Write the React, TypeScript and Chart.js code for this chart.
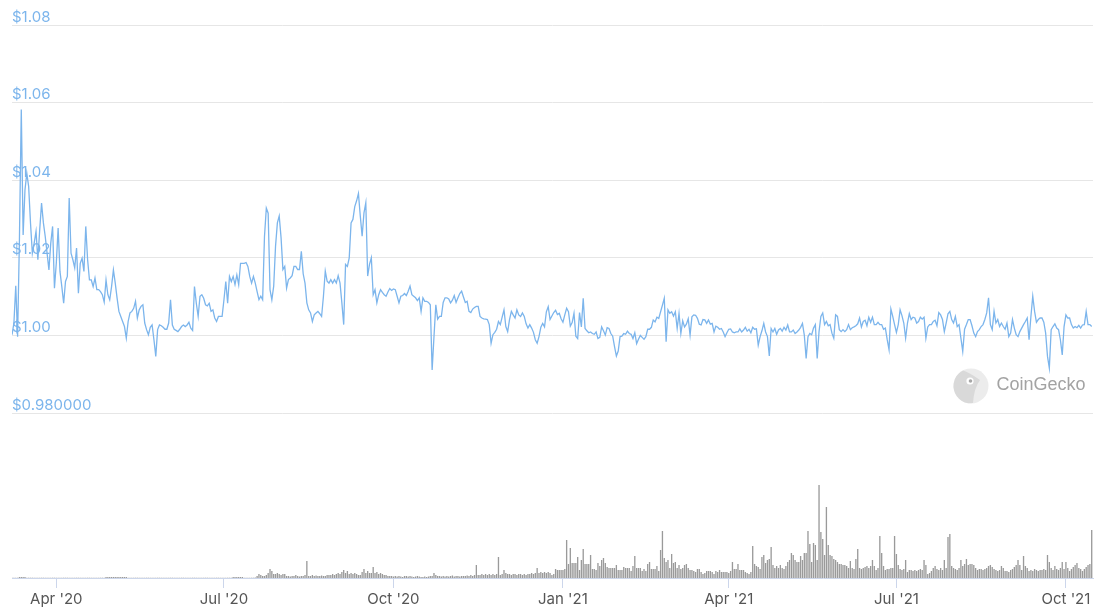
import React, { useEffect, useRef } from 'react';
import { Chart, registerables } from 'chart.js';

Chart.register(...registerables);

// ---------- data ----------
const firstDate = '2020-03-08'; // daily samples start here
const tickDates = ['2020-04-01', '2020-07-01', '2020-10-01', '2021-01-01', '2021-04-01', '2021-07-01', '2021-10-01'];
const tickLabels = ["Apr '20", "Jul '20", "Oct '20", "Jan '21", "Apr '21", "Jul '21", "Oct '21"];
const priceTicks = [0.98, 1.0, 1.02, 1.04, 1.06, 1.08];
const priceTickLabels = ['$0.980000', '$1.00', '$1.02', '$1.04', '$1.06', '$1.08'];

// daily price (USD)
const prices = [
  1.0002, 1.0032, 1.0128, 0.9997, 1.0250, 1.0582, 1.0259, 1.0375, 1.0418, 1.0384,
  1.0290, 1.0212, 1.0238, 1.0268, 1.0195, 1.0272, 1.0341, 1.0290, 1.0255, 1.0212,
  1.0169, 1.0238, 1.0281, 1.0122, 1.0186, 1.0277, 1.0165, 1.0126, 1.0083, 1.0139,
  1.0152, 1.0354, 1.0212, 1.0195, 1.0174, 1.0225, 1.0109, 1.0186, 1.0199, 1.0165,
  1.0281, 1.0195, 1.0143, 1.0143, 1.0126, 1.0148, 1.0118, 1.0118, 1.0113, 1.0105,
  1.0086, 1.0143, 1.0105, 1.0092, 1.0126, 1.0169, 1.0135, 1.0096, 1.0062, 1.0049,
  1.0036, 1.0023, 0.9993, 1.0036, 1.0058, 1.0062, 1.0070, 1.0088, 1.0045, 1.0066,
  1.0075, 1.0079, 1.0032, 1.0015, 1.0002, 1.0021, 1.0027, 0.9989, 0.9946, 1.0015,
  1.0027, 1.0025, 1.0021, 1.0016, 1.0016, 1.0032, 1.0092, 1.0027, 1.0016, 1.0013,
  1.0010, 1.0016, 1.0023, 1.0027, 1.0023, 1.0027, 1.0034, 1.0019, 1.0013, 1.0126,
  1.0083, 1.0049, 1.0101, 1.0105, 1.0096, 1.0079, 1.0076, 1.0083, 1.0062, 1.0066,
  1.0045, 1.0036, 1.0049, 1.0049, 1.0049, 1.0092, 1.0139, 1.0083, 1.0152, 1.0139,
  1.0152, 1.0131, 1.0156, 1.0131, 1.0186, 1.0186, 1.0186, 1.0188, 1.0178, 1.0152,
  1.0135, 1.0152, 1.0135, 1.0113, 1.0092, 1.0101, 1.0092, 1.0255, 1.0328, 1.0315,
  1.0118, 1.0092, 1.0127, 1.0230, 1.0290, 1.0308, 1.0252, 1.0170, 1.0178, 1.0122,
  1.0144, 1.0148, 1.0154, 1.0178, 1.0178, 1.0170, 1.0170, 1.0217, 1.0159, 1.0135,
  1.0084, 1.0066, 1.0058, 1.0036, 1.0053, 1.0058, 1.0062, 1.0056, 1.0049, 1.0101,
  1.0166, 1.0140, 1.0135, 1.0144, 1.0135, 1.0144, 1.0135, 1.0154, 1.0135, 1.0084,
  1.0028, 1.0183, 1.0178, 1.0200, 1.0290, 1.0299, 1.0332, 1.0347, 1.0366, 1.0308,
  1.0256, 1.0316, 1.0342, 1.0153, 1.0183, 1.0200, 1.0105, 1.0118, 1.0084, 1.0105,
  1.0118, 1.0111, 1.0105, 1.0101, 1.0112, 1.0121, 1.0116, 1.0120, 1.0118, 1.0101,
  1.0084, 1.0101, 1.0103, 1.0108, 1.0103, 1.0114, 1.0127, 1.0105, 1.0101, 1.0097,
  1.0090, 1.0097, 1.0062, 1.0097, 1.0088, 1.0088, 1.0085, 1.0079, 0.9911, 0.9997,
  1.0079, 1.0042, 1.0049, 1.0049, 1.0085, 1.0097, 1.0097, 1.0094, 1.0084, 1.0091,
  1.0103, 1.0085, 1.0097, 1.0108, 1.0114, 1.0099, 1.0085, 1.0088, 1.0062, 1.0059,
  1.0068, 1.0072, 1.0075, 1.0075, 1.0049, 1.0045, 1.0043, 1.0042, 1.0041, 1.0028,
  0.9980, 1.0002, 1.0008, 1.0016, 1.0036, 1.0028, 1.0047, 1.0066, 1.0023, 1.0010,
  1.0041, 1.0062, 1.0053, 1.0045, 1.0066, 1.0053, 1.0049, 1.0058, 1.0049, 1.0030,
  1.0019, 1.0028, 1.0019, 1.0008, 0.9989, 0.9980, 0.9997, 1.0021, 1.0031, 1.0022,
  1.0061, 1.0074, 1.0041, 1.0050, 1.0059, 1.0065, 1.0054, 1.0057, 1.0043, 1.0034,
  1.0053, 1.0070, 1.0061, 1.0024, 1.0033, 1.0057, 0.9998, 0.9992, 1.0059, 1.0022,
  1.0096, 1.0018, 1.0012, 1.0007, 1.0009, 1.0005, 1.0003, 1.0009, 0.9992, 0.9995,
  1.0022, 1.0012, 1.0001, 1.0020, 1.0018, 1.0005, 0.9998, 0.9971, 0.9947, 0.9960,
  0.9997, 0.9998, 1.0005, 1.0003, 1.0011, 1.0005, 1.0003, 0.9992, 1.0007, 0.9979,
  0.9990, 1.0000, 0.9995, 0.9990, 0.9997, 1.0016, 1.0016, 1.0021, 1.0040, 1.0035,
  1.0047, 1.0044, 1.0061, 1.0078, 1.0096, 0.9984, 1.0066, 1.0057, 1.0061, 1.0050,
  1.0061, 1.0018, 1.0057, 1.0005, 1.0038, 1.0022, 1.0029, 1.0043, 1.0001, 1.0048,
  1.0053, 1.0052, 1.0044, 1.0029, 1.0027, 1.0041, 1.0040, 1.0031, 1.0040, 1.0029,
  1.0031, 1.0009, 1.0024, 1.0021, 1.0016, 1.0018, 1.0009, 0.9997, 1.0007, 1.0016,
  1.0017, 1.0009, 1.0007, 1.0009, 1.0009, 1.0017, 1.0009, 1.0014, 1.0021, 1.0011,
  1.0016, 1.0007, 1.0021, 1.0016, 1.0017, 0.9975, 0.9997, 1.0012, 1.0031, 1.0009,
  0.9997, 0.9947, 1.0018, 1.0009, 1.0018, 1.0003, 1.0014, 1.0018, 1.0011, 1.0021,
  1.0014, 1.0027, 1.0009, 1.0009, 1.0014, 1.0005, 1.0009, 1.0014, 1.0021, 1.0031,
  1.0001, 0.9941, 0.9997, 1.0005, 1.0002, 1.0019, 1.0028, 0.9941, 1.0010, 1.0049,
  1.0058, 1.0028, 1.0036, 1.0025, 1.0028, 1.0006, 0.9993, 1.0053, 1.0049, 1.0015,
  1.0010, 1.0015, 1.0010, 1.0015, 1.0028, 1.0015, 1.0020, 1.0022, 1.0025, 1.0030,
  1.0045, 1.0022, 1.0036, 1.0039, 1.0025, 1.0047, 1.0034, 1.0047, 1.0028, 1.0028,
  1.0034, 1.0028, 1.0028, 1.0016, 1.0019, 0.9989, 0.9963, 1.0068, 1.0049, 1.0028,
  1.0008, 1.0028, 1.0066, 1.0051, 1.0032, 0.9993, 1.0032, 1.0056, 1.0041, 1.0047,
  1.0045, 1.0032, 1.0036, 1.0047, 1.0042, 1.0047, 0.9993, 1.0022, 1.0028, 1.0028,
  1.0036, 1.0039, 1.0025, 1.0059, 1.0053, 1.0041, 1.0010, 1.0032, 1.0056, 1.0062,
  1.0041, 1.0032, 1.0049, 1.0023, 1.0028, 0.9993, 0.9959, 1.0016, 1.0028, 1.0041,
  1.0041, 1.0025, 1.0006, 0.9997, 1.0010, 1.0015, 1.0023, 1.0028, 1.0041, 1.0058,
  1.0097, 1.0028, 1.0015, 1.0062, 1.0032, 1.0041, 1.0023, 1.0032, 1.0023, 1.0016,
  1.0032, 0.9997, 1.0006, 1.0041, 1.0019, 1.0002, 0.9997, 1.0010, 1.0019, 1.0028,
  1.0036, 1.0045, 0.9989, 1.0049, 1.0101, 1.0062, 1.0034, 1.0041, 1.0045, 1.0045,
  1.0034, 1.0006, 0.9946, 0.9916, 1.0015, 1.0023, 1.0030, 1.0019, 1.0015, 0.9989,
  0.9950, 1.0023, 1.0053, 1.0045, 1.0045, 1.0028, 1.0019, 1.0023, 1.0020, 1.0026,
  1.0019, 1.0027, 1.0028, 1.0062, 1.0028, 1.0028, 1.0023,
];

// daily trading volume (USD millions)
const volumes = [
  0.3, 0.3, 0.3, 0.3, 1, 1, 1, 1, 0.3, 0.3,
  0.3, 0.3, 0.3, 0.3, 0.3, 0.3, 0.3, 0.3, 0.3, 0.3,
  0.3, 0.3, 0.3, 0.3, 0.3, 0.3, 0.3, 0.3, 0.3, 0.3,
  0.3, 0.3, 0.3, 0.3, 0.3, 0.3, 0.3, 0.3, 0.3, 0.3,
  0.3, 0.3, 0.3, 0.3, 0.3, 0.3, 0.3, 0.3, 0.3, 0.3,
  0.3, 1, 1, 1, 1, 1, 1, 1, 1, 1,
  1, 1, 1, 0.3, 0.3, 0.3, 0.3, 0.3, 0.3, 0.3,
  0.3, 0.3, 0.3, 0.3, 0.3, 0.3, 0.3, 0.3, 0.3, 0.3,
  0.3, 0.3, 0.3, 0.3, 0.3, 0.3, 0.3, 0.3, 0.3, 0.3,
  0.3, 0.3, 0.3, 0.3, 0.3, 0.3, 0.3, 0.3, 0.3, 0.3,
  0.3, 0.3, 0.3, 0.3, 0.3, 0.3, 0.3, 0.3, 0.3, 0.3,
  0.3, 0.3, 0.3, 0.3, 0.3, 0.3, 0.3, 0.3, 0.3, 0.3,
  1, 1, 1, 1, 1, 1, 0.3, 0.3, 0.3, 0.3,
  0.3, 0.3,
  0.5, 2, 4, 3, 2, 2, 3, 5, 9, 7,
  4, 4, 5, 4, 3, 4, 4, 2, 2, 1.5,
  2, 2, 3, 2, 1.5, 2, 2, 3, 17, 2,
  2, 3, 2, 2.5, 2, 2, 2.5, 2, 2, 3,
  3, 3, 4, 3, 4, 5, 4, 6, 8, 5,
  7, 4, 5, 4, 5, 4, 3, 3, 6, 9,
  5, 7, 5, 5, 11, 5, 6, 4, 5, 4,
  3, 3, 2, 2, 2, 1.5, 2, 1.5, 2, 1.5,
  1, 2, 2, 1.5, 2, 1.5, 1, 1.5, 2, 1.5,
  1, 1, 1.5, 1, 1.5, 2, 2, 5, 3, 2,
  2, 1.5, 2, 1.5, 2, 1.5, 2, 2.5, 1.5, 2,
  2, 1.5, 2, 2, 2, 2.5, 2, 3, 2, 3,
  13, 3, 3, 4, 3, 4, 3, 4, 3, 4,
  3, 4, 21, 3, 4, 8, 5, 4, 4, 3,
  4, 4, 3, 4, 4, 3, 4, 3, 4, 4,
  5, 4, 5, 10, 5, 6, 5, 6, 5, 6,
  5, 3, 4, 9, 8, 8, 8, 8, 9, 38,
  14, 30, 15, 15, 15, 21, 8, 18, 29, 14,
  14, 14, 23, 9, 9, 8, 15, 12, 18, 20,
  15, 11, 10, 10, 10, 10, 13, 8, 8, 8,
  11, 10, 10, 10, 7, 12, 22, 10, 10, 10,
  7, 9, 7, 14, 16, 9, 9, 9, 12, 7,
  28, 47, 20, 16, 18, 10, 24, 15, 16, 10,
  13, 9, 10, 13, 14, 10, 8, 8, 7, 6,
  9, 9, 6, 4, 5, 7, 7, 7, 6, 4,
  7, 6, 8, 6, 6, 6, 6, 5, 7, 16,
  9, 9, 14, 8, 8, 8, 6, 5, 4, 6,
  32, 14, 12, 11, 9, 21, 23, 15, 18, 19,
  31, 13, 10, 12, 10, 13, 10, 9, 12, 16,
  18, 25, 23, 18, 16, 16, 22, 18, 25, 25,
  47, 34, 16, 35, 33, 18, 93, 46, 39, 23,
  71, 33, 23, 22, 19, 18, 16, 14, 14, 13,
  13, 12, 10, 17, 10, 9, 19, 29, 10, 9,
  10, 11, 12, 10, 12, 18, 12, 8, 10, 42,
  25, 12, 8, 9, 9, 10, 10, 42, 24, 13,
  9, 8, 9, 18, 6, 8, 8, 7, 8, 7,
  8, 9, 8, 18, 13, 4, 5, 7, 10, 12,
  9, 8, 10, 8, 18, 10, 41, 44, 12, 10,
  9, 8, 10, 18, 12, 14, 19, 13, 14, 14,
  13, 10, 8, 9, 9, 8, 9, 10, 12, 13,
  11, 9, 8, 7, 8, 12, 10, 7, 7, 6,
  8, 9, 11, 13, 18, 13, 8, 22, 12, 10,
  7, 8, 7, 9, 8, 7, 8, 8, 9, 8,
  23, 16, 10, 8, 12, 9, 8, 10, 16, 9,
  16, 10, 7, 9, 11, 13, 15, 10, 9, 7,
  9, 11, 13, 14, 48,
];

// ---------- helpers ----------
const DAY = 86400000;
const ORIGIN = Date.UTC(2020, 3, 1);
const toDay = (s: string) => {
  const [y, m, d] = s.split('-').map(Number);
  return (Date.UTC(y, m - 1, d) - ORIGIN) / DAY;
};
const startDay = toDay(firstDate);
const tickDays = tickDates.map(toDay);

const FONT = 'Inter, "Noto Sans", "Liberation Sans", sans-serif';

const watermark = {
  id: 'cgWatermark',
  beforeDatasetsDraw(chart: any) {
    const { ctx, chartArea } = chart;
    const cx = chartArea.right - 122;
    const cy = chartArea.top + 361;
    ctx.save();
    // logo
    ctx.beginPath();
    ctx.arc(cx, cy, 17.5, 0, Math.PI * 2);
    ctx.fillStyle = '#ececec';
    ctx.fill();
    ctx.beginPath();
    ctx.arc(cx, cy, 17.5, Math.PI * 0.55, Math.PI * 1.35);
    ctx.quadraticCurveTo(cx - 2, cy - 14, cx + 9, cy - 6);
    ctx.quadraticCurveTo(cx + 3, cy + 2, cx + 2, cy + 17);
    ctx.closePath();
    ctx.fillStyle = '#d9d9d9';
    ctx.fill();
    ctx.beginPath();
    ctx.arc(cx - 1, cy - 5, 3.6, 0, Math.PI * 2);
    ctx.fillStyle = '#ffffff';
    ctx.fill();
    ctx.beginPath();
    ctx.arc(cx - 0.5, cy - 5, 1.8, 0, Math.PI * 2);
    ctx.fillStyle = '#a8a8a8';
    ctx.fill();
    // text
    ctx.fillStyle = '#a3a3a3';
    ctx.font = '18px "Liberation Sans", Arial, sans-serif';
    ctx.textBaseline = 'middle';
    ctx.textAlign = 'left';
    ctx.fillText('CoinGecko', cx + 25.5, cy - 1);
    ctx.restore();
  },
};

export default function App() {
  const ref = useRef<HTMLCanvasElement>(null);

  useEffect(() => {
    if (!ref.current) return;
    const linePts = prices.map((p, i) => ({ x: startDay + i, y: p }));
    const barPts = volumes.map((v, i) => ({ x: startDay + i, y: v }));

    const chart = new Chart(ref.current, {
      type: 'line',
      data: {
        datasets: [
          {
            type: 'line',
            label: 'Price',
            data: linePts,
            yAxisID: 'y',
            borderColor: '#7cb5ec',
            borderWidth: 1.3,
            pointRadius: 0,
            tension: 0,
            fill: false,
          },
          {
            type: 'bar',
            label: 'Volume',
            data: barPts,
            yAxisID: 'yVol',
            backgroundColor: '#9a9a9a',
            borderWidth: 0,
            barPercentage: 0.8,
            categoryPercentage: 0.9,
          } as any,
        ],
      },
      options: {
        animation: false,
        responsive: true,
        maintainAspectRatio: false,
        layout: { padding: { left: 4, right: 5, top: 17, bottom: 2 } },
        plugins: {
          legend: { display: false },
          tooltip: { enabled: false },
        },
        scales: {
          x: {
            type: 'linear',
            min: -24.04,
            max: 562.7,
            offset: false,
            grid: {
              drawOnChartArea: false,
              drawTicks: true,
              tickLength: 10,
              color: '#ccd6eb',
              offset: false,
            },
            border: { display: true, color: '#ccd6eb' },
            afterBuildTicks: (scale: any) => {
              scale.ticks = tickDays.map((v) => ({ value: v }));
            },
            ticks: {
              autoSkip: false,
              maxRotation: 0,
              padding: 2,
              color: '#555555',
              font: { family: FONT, size: 15 },
              callback: (_v: any, i: number) => tickLabels[i],
            },
          },
          y: {
            type: 'linear',
            position: 'left',
            min: 0.9375,
            max: 1.08,
            grid: { color: '#e6e6e6', drawTicks: false, lineWidth: 1 },
            border: { display: false },
            afterBuildTicks: (scale: any) => {
              scale.ticks = priceTicks.map((v) => ({ value: v }));
            },
            ticks: {
              mirror: true,
              padding: 0,
              labelOffset: -8,
              color: '#7cb5ec',
              font: { family: FONT, size: 15 },
              callback: (v: any) => {
                const i = priceTicks.findIndex((t) => Math.abs(t - Number(v)) < 1e-6);
                return i >= 0 ? priceTickLabels[i] : '';
              },
            },
          },
          yVol: {
            type: 'linear',
            display: false,
            min: 0,
            max: 553,
          },
        },
      },
      plugins: [watermark],
    });
    return () => chart.destroy();
  }, []);

  return (
    <div style={{ position: 'relative', width: 1090, height: 604, background: '#ffffff' }}>
      <canvas ref={ref} />
    </div>
  );
}
